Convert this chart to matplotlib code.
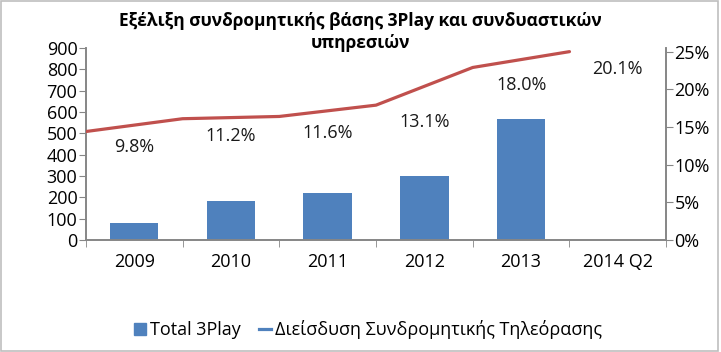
import matplotlib.pyplot as plt
import numpy as np
from matplotlib.lines import Line2D
from matplotlib.patches import Patch, Rectangle

plt.rcParams['font.family'] = ['Open Sans', 'DejaVu Sans']

years = ['2009', '2010', '2011', '2012', '2013', '2014 Q2']
total_3play = [80, 185, 222, 298, 565]
# red line, drawn at the category boundaries
penetration_line = [14.4, 16.1, 16.4, 17.9, 22.9, 25.0]
# printed percentage labels
penetration_labels = [9.8, 11.2, 11.6, 13.1, 18.0, 20.1]

bar_color = '#4F81BD'
line_color = '#C0504D'
axis_color = '#868686'

fig = plt.figure(figsize=(7.21, 3.52), dpi=100)
ax = fig.add_axes([0.119, 0.318, 0.805, 0.546])
ax2 = ax.twinx()

x = np.arange(len(years))
ax.bar(x[:len(total_3play)], total_3play, width=0.5, color=bar_color, zorder=2)
ax2.plot(np.arange(len(penetration_line)) - 0.5, penetration_line,
         color=line_color, lw=2.3, solid_capstyle='round', zorder=3)
for i, v in enumerate(penetration_labels):
    ax2.annotate('%.1f%%' % v, (x[i], v), xytext=(0, 14), textcoords='offset points',
                 ha='center', va='center', fontsize=13, color='#1a1a1a')

ax.set_xlim(-0.5, len(years) - 0.5)
ax.set_ylim(0, 900)
ax.set_yticks(range(0, 901, 100))
ax2.set_ylim(0, 25.5)
ax2.set_yticks(range(0, 26, 5))
ax2.set_yticklabels(['%d%%' % t for t in range(0, 26, 5)])

ax.set_xticks(x)
ax.set_xticklabels(years)
ax.set_xticks(np.arange(len(years) + 1) - 0.5, minor=True)
ax.tick_params(axis='x', which='major', length=0, pad=9, labelsize=13)
ax.tick_params(axis='x', which='minor', length=5, color=axis_color, direction='out')
ax.tick_params(axis='y', length=5, color=axis_color, labelsize=13, pad=1)
ax2.tick_params(axis='y', length=5, color=axis_color, labelsize=13, pad=1)

for a in (ax, ax2):
    a.spines['top'].set_visible(False)
    for s in ('left', 'right', 'bottom'):
        a.spines[s].set_color(axis_color)
        a.spines[s].set_linewidth(1.2)

fig.text(0.5, 0.965, 'Εξέλιξη συνδρομητικής βάσης 3Play και συνδυαστικών\nυπηρεσιών',
         ha='center', va='top', fontsize=12.5, fontweight='bold', linespacing=1.25)

handles = [Patch(color=bar_color),
           Line2D([0], [0], color=bar_color, lw=2.3)]
fig.legend(handles, ['Total 3Play', 'Διείσδυση Συνδρομητικής Τηλεόρασης'],
           loc='center', bbox_to_anchor=(0.51, 0.063), ncol=2, frameon=False,
           fontsize=13, handlelength=0.7, handleheight=0.7, handletextpad=0.2,
           columnspacing=1.0)

fig.patches.append(Rectangle((0.002, 0.004), 0.994, 0.992, transform=fig.transFigure,
                             fill=False, edgecolor='#bfbfbf', lw=1.2))

fig.savefig('out.png', dpi=100)
